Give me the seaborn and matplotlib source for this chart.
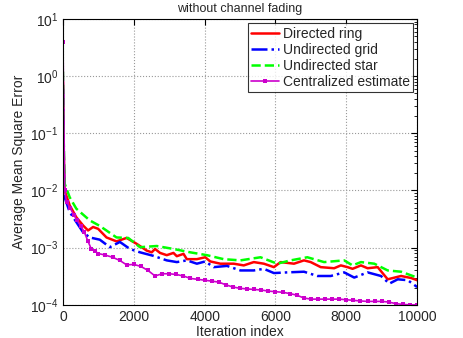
import numpy as np
import pandas as pd
import matplotlib
matplotlib.use("Agg")
import matplotlib.pyplot as plt
import seaborn as sns

# values
ring_iter = [0, 20, 47, 190, 378, 567, 709, 850, 992, 1229, 1512, 1796, 2079, 2363, 2505,
             2600, 2741, 2930, 3119, 3214, 3403, 3497, 3781, 4017, 4159, 4443, 4820, 5104,
             5388, 5671, 5955, 6144, 6522, 6805, 6994, 7278, 7656, 7845, 8034, 8176, 8412,
             8601, 8885, 9168, 9546, 9830, 10000]
ring_mse = [0.8, 0.05, 1.0e-2, 5.5e-3, 3.4e-3, 2.45e-3, 2.0e-3, 2.3e-3, 2.14e-3, 1.51e-3,
            1.29e-3, 1.48e-3, 1.17e-3, 8.9e-4, 8.3e-4, 9.5e-4, 8.1e-4, 7.4e-4, 8.1e-4, 7.1e-4,
            7.8e-4, 6.3e-4, 6.3e-4, 6.8e-4, 5.75e-4, 5.25e-4, 5.25e-4, 4.9e-4, 5.6e-4, 5.25e-4,
            4.57e-4, 5.6e-4, 5.25e-4, 6.0e-4, 5.6e-4, 4.57e-4, 4.37e-4, 4.9e-4, 4.57e-4,
            4.27e-4, 4.9e-4, 4.37e-4, 4.57e-4, 2.8e-4, 3.2e-4, 2.95e-4, 2.7e-4]

grid_iter = [0, 20, 47, 190, 378, 567, 756, 1040, 1323, 1607, 1890, 2174, 2552, 2930, 3214,
             3497, 3781, 4017, 4253, 4631, 5009, 5388, 5671, 5955, 6333, 6805, 7183, 7561,
             7940, 8223, 8601, 8979, 9214, 9452, 9735, 10000]
grid_mse = [0.6, 0.03, 7.6e-3, 4.2e-3, 2.8e-3, 1.86e-3, 1.51e-3, 1.38e-3, 1.02e-3, 1.26e-3,
            9.5e-4, 8.3e-4, 7.2e-4, 6.0e-4, 5.6e-4, 6.0e-4, 5.25e-4, 5.75e-4, 4.57e-4, 4.8e-4,
            4.0e-4, 4.0e-4, 4.27e-4, 3.6e-4, 3.7e-4, 3.8e-4, 3.2e-4, 3.2e-4, 3.7e-4, 3.0e-4,
            3.7e-4, 3.2e-4, 2.35e-4, 2.8e-4, 2.7e-4, 2.05e-4]

star_iter = [0, 20, 47, 190, 378, 756, 1040, 1512, 1843, 2174, 2647, 3119, 3592, 4064, 4537,
             5009, 5577, 6049, 6427, 6900, 7372, 7940, 8176, 8412, 8790, 9168, 9546, 10000]
star_mse = [1.2, 0.08, 1.32e-2, 7.6e-3, 4.8e-3, 3.0e-3, 2.4e-3, 1.51e-3, 1.48e-3, 1.02e-3,
            1.07e-3, 9.5e-4, 8.3e-4, 7.4e-4, 6.3e-4, 6.0e-4, 6.8e-4, 5.25e-4, 6.0e-4, 6.8e-4,
            5.6e-4, 6.0e-4, 4.9e-4, 5.6e-4, 5.25e-4, 4.0e-4, 3.8e-4, 3.0e-4]

central_iter = [0, 50, 100, 200, 300, 400, 500, 600, 700, 800, 900, 1000, 1200, 1400, 1600,
                1800, 2000, 2200, 2400, 2600, 2800, 3000, 3200, 3400, 3600, 3800, 4000, 4200,
                4400, 4600, 4800, 5000, 5200, 5400, 5600, 5800, 6000, 6200, 6400, 6600, 6800,
                7000, 7200, 7400, 7600, 7800, 8000, 8200, 8400, 8600, 8800, 9000, 9200, 9400,
                9600, 9800, 10000]
central_mse = [4.0, 1.0e-2, 6.3e-3, 5.0e-3, 3.8e-3, 3.0e-3, 2.4e-3, 1.9e-3, 1.32e-3, 9.5e-4,
               8.7e-4, 7.9e-4, 7.4e-4, 6.8e-4, 6.0e-4, 5.0e-4, 5.1e-4, 4.7e-4, 4.0e-4, 3.2e-4,
               3.5e-4, 3.5e-4, 3.4e-4, 3.2e-4, 2.9e-4, 2.8e-4, 2.7e-4, 2.6e-4, 2.5e-4, 2.24e-4,
               2.05e-4, 1.95e-4, 1.9e-4, 1.86e-4, 1.82e-4, 1.74e-4, 1.7e-4, 1.66e-4, 1.58e-4,
               1.48e-4, 1.32e-4, 1.26e-4, 1.26e-4, 1.26e-4, 1.26e-4, 1.26e-4, 1.23e-4, 1.2e-4,
               1.17e-4, 1.15e-4, 1.15e-4, 1.15e-4, 1.12e-4, 1.05e-4, 1.02e-4, 1.0e-4, 1.0e-4]

sns.set_style("white")
plt.rcParams['font.family'] = ['Liberation Sans', 'DejaVu Sans']
plt.rcParams['mathtext.fontset'] = 'custom'
plt.rcParams['mathtext.rm'] = 'Liberation Sans'
plt.rcParams['mathtext.it'] = 'Liberation Sans:italic'

fig = plt.figure(figsize=(4.63, 3.38), dpi=100)
ax = fig.add_axes([0.136, 0.098, 0.765, 0.846])

sns.lineplot(x=ring_iter, y=ring_mse, ax=ax, color='red', lw=1.8, label='Directed ring')
sns.lineplot(x=grid_iter, y=grid_mse, ax=ax, color='blue', lw=1.8, linestyle='-.',
             label='Undirected grid')
sns.lineplot(x=star_iter, y=star_mse, ax=ax, color='#00ff00', lw=1.8, linestyle='--',
             label='Undirected star')
sns.lineplot(x=central_iter, y=central_mse, ax=ax, color='#cc00cc', lw=1.2, marker='s',
             markersize=2.5, markeredgewidth=0, label='Centralized estimate')

ax.set_yscale('log')
ax.set_xlim(0, 10000)
ax.set_ylim(1e-4, 10)
ax.set_xticks([0, 2000, 4000, 6000, 8000, 10000])
ax.grid(True, which='major', linestyle=':', color='#999999', lw=0.8)
ax.tick_params(which='both', direction='in', top=True, right=True, labelsize=10,
               color='black')
ax.tick_params(which='major', length=4)
ax.tick_params(which='minor', length=2)
for s in ax.spines.values():
    s.set_color('black')
    s.set_linewidth(0.8)

ax.set_xlabel('Iteration index', fontsize=10, labelpad=1)
ax.set_ylabel('Average Mean Square Error', fontsize=10, labelpad=3)
ax.set_title('without channel fading', fontsize=9, pad=5)

leg = ax.legend(loc='upper right', fontsize=10, frameon=True, fancybox=False,
                edgecolor='black', handlelength=2.0, borderpad=0.25, labelspacing=0.15,
                handletextpad=0.25, borderaxespad=0.3, numpoints=1)
leg.get_frame().set_linewidth(0.8)

fig.savefig('out.png', dpi=100)
